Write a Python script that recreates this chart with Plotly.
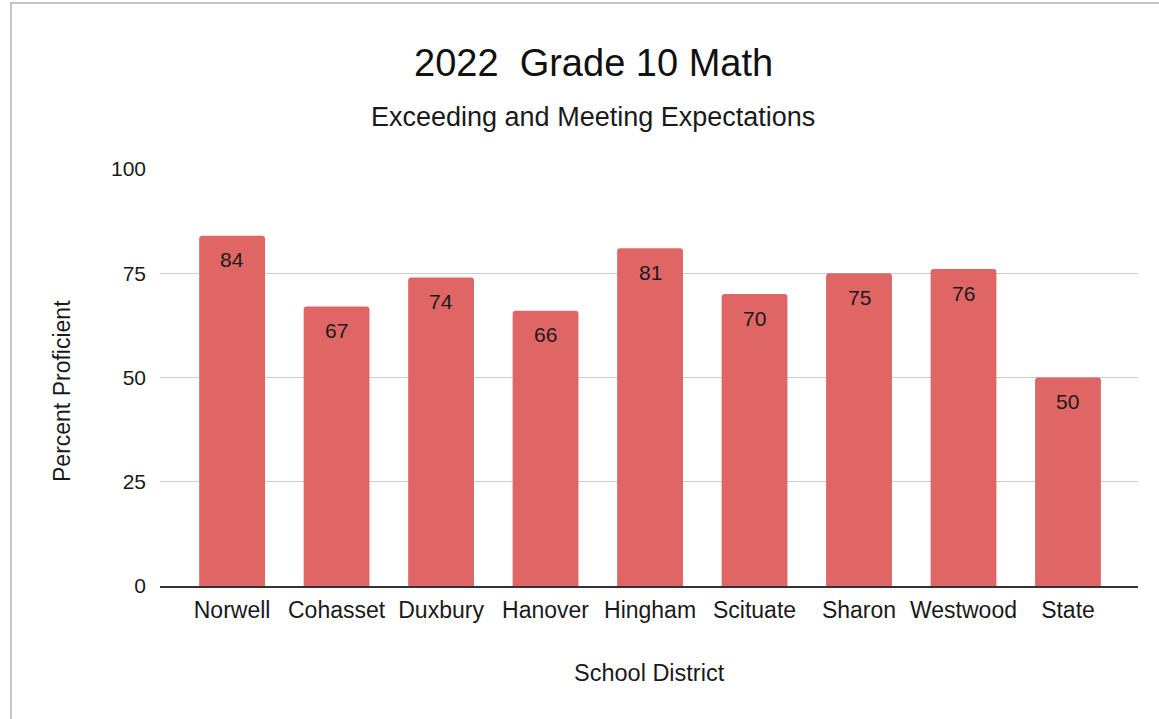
import plotly.graph_objects as go

districts = ["Norwell", "Cohasset", "Duxbury", "Hanover", "Hingham",
             "Scituate", "Sharon", "Westwood", "State"]
proficient = [84, 67, 74, 66, 81, 70, 75, 76, 50]
y_ticks = [0, 25, 50, 75, 100]

font_name = "Liberation Sans, Arial, sans-serif"

fig = go.Figure()
fig.add_trace(go.Bar(
    x=districts,
    y=proficient,
    marker_color="#e06666",
    marker_line_width=0,
    ))

# value labels just inside the top of each bar
for d, v in zip(districts, proficient):
    fig.add_annotation(
        x=d, y=v, text=str(v), showarrow=False,
        yanchor="middle", yshift=-24,
        font=dict(family=font_name, size=21, color="#1a1a1a"),
    )

fig.update_layout(
    width=1159, height=719,
    margin=dict(l=160, r=21, t=169, b=133),
    paper_bgcolor="white",
    plot_bgcolor="white",
    bargap=0.37,
    barcornerradius=3,
    showlegend=False,
    font=dict(family=font_name, size=21, color="#1a1a1a"),
)

title_x = (593 - 160) / 978

# title + subtitle
fig.add_annotation(
    text="2022\u00a0 Grade 10 Math",
    xref="paper", yref="paper", x=title_x, y=1 + (169 - 63) / 417,
    showarrow=False, xanchor="center", yanchor="middle",
    font=dict(family=font_name, size=38, color="#111111"),
)
fig.add_annotation(
    text="Exceeding and Meeting Expectations",
    xref="paper", yref="paper", x=title_x, y=1 + (169 - 117) / 417,
    showarrow=False, xanchor="center", yanchor="middle",
    font=dict(family=font_name, size=27, color="#1a1a1a"),
)
# axis titles
fig.add_annotation(
    text="School District",
    xref="paper", yref="paper", x=0.5, y=(586 - 673) / 417,
    showarrow=False, xanchor="center", yanchor="middle",
    font=dict(family=font_name, size=23.5, color="#1a1a1a"),
)
fig.add_annotation(
    text="Percent Proficient",
    xref="paper", yref="paper", x=(62 - 160) / 978, y=(586 - 391) / 417,
    showarrow=False, xanchor="center", yanchor="middle", textangle=-90,
    font=dict(family=font_name, size=23, color="#1a1a1a"),
)

# light grey frame around the chart
fig.add_shape(
    type="rect", xref="paper", yref="paper",
    x0=(11 - 160) / 978, x1=(1175 - 160) / 978,
    y0=(586 - 740) / 417, y1=1 + (169 - 3) / 417,
    line=dict(color="#c6c6c6", width=2),
)

fig.update_xaxes(
    range=[-0.69, 8.67],
    showgrid=False,
    showline=True, linecolor="#333333", linewidth=1.5,
    ticks="", ticklabelstandoff=3,
    tickfont=dict(family=font_name, size=23, color="#1a1a1a"),
)
fig.update_yaxes(
    range=[0, 100],
    tickvals=y_ticks,
    showgrid=True, gridcolor="#cccccc", gridwidth=1,
    zeroline=False, showline=False,
    ticks="", ticklabelstandoff=13,
    tickfont=dict(family=font_name, size=21, color="#1a1a1a"),
)

# drop the default body margin so the figure sits at the window corner
fig.write_html("out.html", config={"displayModeBar": False},
               post_script="document.body.style.margin='0';")
